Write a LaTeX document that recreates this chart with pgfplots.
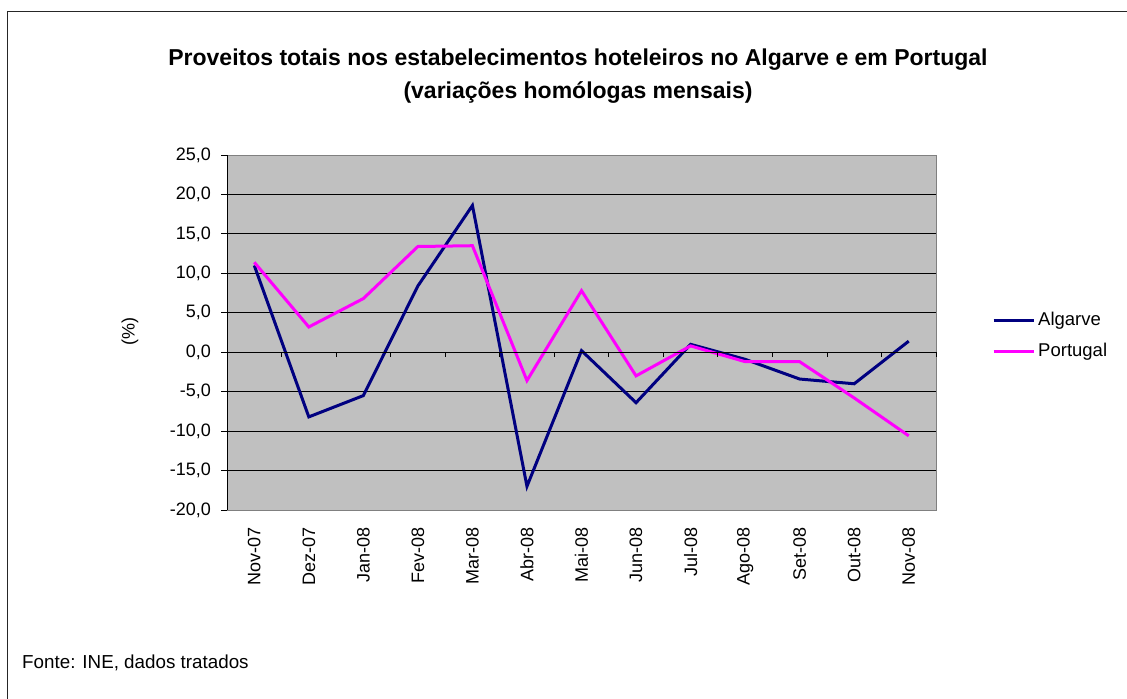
\documentclass[border=0pt]{standalone}
\usepackage{pgfplots}
\pgfplotsset{compat=1.18}
\usepackage{fontspec}
\setmainfont{Liberation Sans}
\definecolor{algcol}{RGB}{0,0,128}
\definecolor{porcol}{RGB}{255,0,255}
\definecolor{plotbg}{RGB}{192,192,192}
\begin{document}
\begin{tikzpicture}[x=1bp,y=1bp]
\useasboundingbox (0,0) rectangle (1127,699);
\fill[white] (0,0) rectangle (1127,699);
\draw[line width=1bp,black!85] (7.5,0) -- (7.5,687) -- (1127,687);
\begin{axis}[
  at={(227bp,189bp)}, anchor=south west,
  scale only axis, width=709bp, height=355bp,
  xmin=-0.5, xmax=12.5, ymin=-20, ymax=25,
  axis background/.style={fill=plotbg},
  axis line style={draw=gray, line width=0.8bp},
  xtick={0,...,12},
  xticklabels={Nov-07,Dez-07,Jan-08,Fev-08,Mar-08,Abr-08,Mai-08,Jun-08,Jul-08,Ago-08,Set-08,Out-08,Nov-08},
  x tick label style={rotate=90, anchor=east, inner sep=0pt, xshift=-11bp},
  xtick style={draw=none},
  ytick={-20,-15,...,25},
  ytick style={black, line width=0.8bp},
  tick align=outside,
  tick pos=left,
  major tick length=6bp,
  y tick label style={inner sep=0pt, xshift=-10bp},
  ymajorgrids, grid style={black, line width=0.8bp},
  /pgf/number format/.cd, fixed, fixed zerofill, precision=1, use comma, assume math mode=true,
  /pgfplots/.cd,
  tick label style={font=\fontsize{18bp}{21bp}\selectfont},
  legend style={draw=none, fill=none, at={(1.079,0.489)}, anchor=west, inner sep=0pt,
    font=\fontsize{18.5bp}{21bp}\selectfont,
    nodes={inner sep=0pt, text height=13bp, text depth=4bp, anchor=west},
    row sep=14bp},
  legend image code/.code={\draw[#1] (0bp,0bp) -- (40bp,0bp);},
  legend cell align=left,
  clip=false,
]
\addplot[color=algcol, line width=3bp, line join=miter] coordinates {
(0,11.0) (1,-8.2) (2,-5.5) (3,8.4) (4,18.6) (5,-17.0) (6,0.2) (7,-6.4) (8,1.0) (9,-0.9) (10,-3.4) (11,-4.0) (12,1.4)};
\addlegendentry{\hspace{3bp}Algarve}
\addplot[color=porcol, line width=3bp, line join=miter] coordinates {
(0,11.4) (1,3.2) (2,6.8) (3,13.4) (4,13.5) (5,-3.6) (6,7.8) (7,-3.0) (8,0.8) (9,-1.2) (10,-1.2) (11,-5.8) (12,-10.6)};
\addlegendentry{\hspace{3bp}Portugal}
\draw[black, line width=0.8bp] (axis cs:-0.5,0) -- (axis cs:12.5,0);
\draw[black, line width=0.8bp] (rel axis cs:0,0) -- (rel axis cs:0,1);
\pgfplotsinvokeforeach{0.5,1.5,2.5,3.5,4.5,5.5,6.5,7.5,8.5,9.5,10.5,11.5,12.5}{
  \draw[black, line width=0.8bp] (axis cs:#1,0) -- ([yshift=-5bp]axis cs:#1,0);
}
\end{axis}
\node[font=\bfseries\fontsize{23bp}{33bp}\selectfont, align=center] at (578,622.5)
  {Proveitos totais nos estabelecimentos hoteleiros no Algarve e em Portugal\\(variações homólogas mensais)};
\node[rotate=90, font=\fontsize{18bp}{21bp}\selectfont] at (130,367) {(\%)};
\node[anchor=west, inner sep=0pt, font=\fontsize{18.8bp}{21bp}\selectfont] at (22,36) {Fonte: INE, dados tratados};
\end{tikzpicture}
\end{document}
